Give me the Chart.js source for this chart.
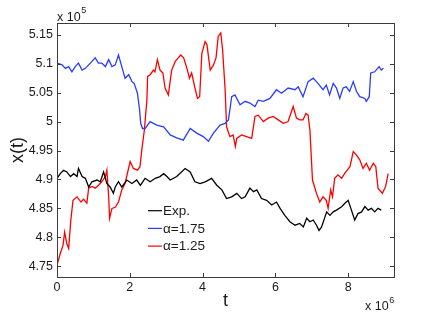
<!DOCTYPE html>
<html><head><meta charset="utf-8">
<script src="https://cdn.jsdelivr.net/npm/chart.js@4/dist/chart.umd.min.js"></script>
<style>html,body{margin:0;padding:0;background:#fff;}canvas{display:block;}</style>
</head><body>
<canvas id="c" width="436" height="312"></canvas>
<script>
// t in units of 1e6, x(t) in units of 1e5
const seriesLabels = ["Exp.", "\u03b1=1.75", "\u03b1=1.25"];
const xTicks = [0, 2, 4, 6, 8];
const yTicks = [4.75, 4.8, 4.85, 4.9, 4.95, 5, 5.05, 5.1, 5.15];

const tExp = [0,0.09,0.18,0.27,0.37,0.46,0.55,0.59,0.69,0.78,0.87,0.96,1.10,1.19,1.28,1.37,1.46,1.55,1.60,1.69,1.78,1.92,2.06,2.19,2.29,2.42,2.56,2.70,2.83,2.93,3.02,3.11,3.29,3.52,3.66,3.79,3.93,4.07,4.25,4.39,4.53,4.66,4.80,4.94,5.07,5.17,5.30,5.40,5.49,5.62,5.76,5.90,6.03,6.13,6.26,6.40,6.54,6.67,6.77,6.86,6.95,7.04,7.13,7.20,7.27,7.41,7.50,7.59,7.68,7.82,7.91,8.00,8.09,8.18,8.27,8.37,8.46,8.55,8.64,8.73,8.82,8.91];
const xExp = [4.902,4.910,4.916,4.913,4.905,4.910,4.905,4.919,4.905,4.902,4.887,4.896,4.899,4.896,4.913,4.893,4.887,4.876,4.887,4.896,4.887,4.899,4.893,4.899,4.890,4.902,4.896,4.902,4.905,4.910,4.905,4.899,4.905,4.919,4.913,4.896,4.893,4.896,4.902,4.890,4.882,4.867,4.870,4.876,4.867,4.870,4.885,4.879,4.882,4.867,4.864,4.856,4.861,4.850,4.838,4.827,4.821,4.824,4.818,4.833,4.827,4.830,4.821,4.812,4.818,4.844,4.838,4.844,4.847,4.853,4.859,4.864,4.847,4.830,4.841,4.844,4.853,4.847,4.850,4.844,4.850,4.847];

const tA175 = [0,0.14,0.23,0.32,0.41,0.50,0.59,0.69,0.78,0.87,0.96,1.05,1.14,1.23,1.33,1.42,1.51,1.60,1.69,1.78,1.87,1.97,2.06,2.12,2.21,2.27,2.30,2.35,2.42,2.56,2.74,2.93,3.11,3.29,3.47,3.66,3.84,4.02,4.16,4.30,4.48,4.62,4.71,4.75,4.80,4.89,5.03,5.17,5.30,5.44,5.53,5.67,5.85,6.03,6.17,6.35,6.54,6.63,6.76,6.90,7.04,7.17,7.31,7.40,7.49,7.59,7.68,7.77,7.86,7.95,8.04,8.14,8.23,8.32,8.46,8.50,8.58,8.62,8.73,8.85,8.91,8.97];
const xA175 = [5.101,5.098,5.092,5.095,5.086,5.095,5.101,5.089,5.092,5.098,5.104,5.110,5.101,5.101,5.095,5.107,5.095,5.098,5.115,5.095,5.075,5.081,5.069,5.066,5.049,5.020,4.997,4.988,4.988,5.000,4.994,4.991,4.977,4.972,4.968,4.988,4.980,4.974,4.966,4.980,4.994,4.997,5.003,5.020,5.043,5.046,5.029,5.035,5.032,5.026,5.037,5.035,5.040,5.055,5.049,5.058,5.055,5.060,5.043,5.069,5.075,5.066,5.055,5.063,5.046,5.066,5.058,5.040,5.058,5.060,5.052,5.069,5.052,5.043,5.040,5.035,5.043,5.084,5.086,5.095,5.089,5.092];

const tA125 = [0,0.09,0.165,0.21,0.27,0.32,0.38,0.44,0.55,0.66,0.73,0.82,0.87,0.96,1.05,1.14,1.23,1.33,1.37,1.42,1.445,1.51,1.60,1.69,1.78,1.87,2.01,2.10,2.21,2.28,2.33,2.40,2.47,2.49,2.56,2.65,2.69,2.76,2.83,2.91,2.97,3.06,3.15,3.25,3.33,3.40,3.48,3.57,3.64,3.70,3.79,3.86,3.92,3.98,4.07,4.12,4.21,4.30,4.37,4.43,4.50,4.55,4.62,4.66,4.75,4.84,4.90,4.94,5.07,5.21,5.35,5.44,5.53,5.67,5.80,5.94,6.08,6.22,6.35,6.49,6.58,6.67,6.76,6.84,6.90,6.95,7.02,7.13,7.22,7.31,7.40,7.45,7.52,7.57,7.63,7.72,7.82,7.91,8.05,8.14,8.23,8.32,8.41,8.50,8.59,8.69,8.76,8.82,8.94,9.03,9.10];
const xA125 = [4.752,4.772,4.786,4.809,4.789,4.781,4.830,4.864,4.870,4.861,4.866,4.859,4.885,4.888,4.885,4.890,4.896,4.905,4.916,4.870,4.833,4.850,4.852,4.861,4.882,4.893,4.931,4.919,4.916,4.922,4.951,4.985,5.037,5.078,5.081,5.089,5.086,5.107,5.089,5.084,5.058,5.046,5.089,5.104,5.110,5.115,5.110,5.092,5.075,5.084,5.058,5.040,5.043,5.118,5.138,5.133,5.089,5.098,5.110,5.147,5.153,5.124,5.055,4.991,4.974,4.977,4.957,4.971,4.977,4.974,4.971,5.009,5.011,5.000,5.006,5.009,5.003,4.997,5.000,5.026,5.006,5.003,5.003,5.014,5.011,4.985,4.899,4.876,4.861,4.870,4.864,4.850,4.882,4.870,4.902,4.908,4.902,4.911,4.922,4.948,4.942,4.934,4.919,4.928,4.916,4.928,4.922,4.885,4.876,4.888,4.910];

const colors = ["#000000", "#2a3cff", "#ff0000"];
function pts(t, x) { return t.map((v, i) => ({ x: v, y: x[i] })); }

const FONT = "'Liberation Sans', Arial, Helvetica, sans-serif";

const decor = {
  id: 'decor',
  afterDraw(chart) {
    const ctx = chart.ctx, a = chart.chartArea;
    const xs = chart.scales.x, ys = chart.scales.y;
    ctx.save();
    ctx.strokeStyle = '#3c3c3c';
    ctx.lineWidth = 1;
    ctx.strokeRect(Math.round(a.left) + 0.5, Math.round(a.top) + 0.5, Math.round(a.right - a.left), Math.round(a.bottom - a.top));
    const L = 4;
    ctx.beginPath();
    xs.ticks.forEach(tk => {
      const px = Math.round(xs.getPixelForValue(tk.value)) + 0.5;
      ctx.moveTo(px, a.bottom); ctx.lineTo(px, a.bottom - L);
      ctx.moveTo(px, a.top); ctx.lineTo(px, a.top + L);
    });
    ys.ticks.forEach(tk => {
      const py = Math.round(ys.getPixelForValue(tk.value)) + 0.5;
      ctx.moveTo(a.left, py); ctx.lineTo(a.left + L, py);
      ctx.moveTo(a.right, py); ctx.lineTo(a.right - L, py);
    });
    ctx.stroke();

    ctx.fillStyle = '#1a1a1a';
    // exponents
    ctx.textBaseline = 'alphabetic'; ctx.textAlign = 'left';
    ctx.font = '12.5px ' + FONT;
    ctx.fillText('x 10', a.left, 20.5);
    let w = ctx.measureText('x 10').width;
    ctx.font = '9px ' + FONT;
    ctx.fillText('5', a.left + w + 0.5, 13);
    ctx.font = '12.5px ' + FONT;
    ctx.fillText('x 10', 365, 310);
    w = ctx.measureText('x 10').width;
    ctx.font = '9px ' + FONT;
    ctx.fillText('6', 365 + w + 0.5, 302.5);

    // axis titles
    ctx.font = '18px ' + FONT;
    ctx.textAlign = 'center'; ctx.textBaseline = 'middle';
    ctx.fillText('t', (a.left + a.right) / 2, 301);
    ctx.save();
    ctx.translate(18, (a.top + a.bottom) / 2);
    ctx.rotate(-Math.PI / 2);
    ctx.fillText('x(t)', 0, 0);
    ctx.restore();

    // legend
    ctx.font = '13.5px ' + FONT;
    ctx.textAlign = 'left'; ctx.textBaseline = 'middle';
    chart.data.datasets.forEach((ds, i) => {
      const y = 210.7 + i * 17.7;
      ctx.strokeStyle = ds.borderColor; ctx.lineWidth = 1.2;
      ctx.beginPath(); ctx.moveTo(148, y); ctx.lineTo(162, y); ctx.stroke();
      ctx.fillStyle = '#1a1a1a';
      ctx.fillText(ds.label, 163, y + 0.5);
    });
    ctx.restore();
  }
};

new Chart(document.getElementById('c'), {
  type: 'line',
  data: {
    datasets: [
      { label: seriesLabels[0], data: pts(tExp, xExp), borderColor: colors[0] },
      { label: seriesLabels[1], data: pts(tA175, xA175), borderColor: colors[1] },
      { label: seriesLabels[2], data: pts(tA125, xA125), borderColor: colors[2] }
    ]
  },
  options: {
    responsive: false, animation: false, devicePixelRatio: 1,
    layout: { padding: { left: 0, top: 23, right: 42, bottom: 0 } },
    elements: { point: { radius: 0 }, line: { borderWidth: 1.3, tension: 0 } },
    plugins: { legend: { display: false }, tooltip: { enabled: false } },
    scales: {
      x: {
        type: 'linear', min: 0, max: 9.26,
        afterBuildTicks: s => { s.ticks = xTicks.map(v => ({ value: v })); },
        afterFit: s => { s.height = 35; },
        grid: { display: false, drawTicks: false, tickLength: 0 }, border: { display: false },
        ticks: { color: '#1a1a1a', font: { family: FONT, size: 12.5 }, padding: 3, maxRotation: 0, autoSkip: false,
                 callback: v => String(v) }
      },
      y: {
        type: 'linear', min: 4.7315, max: 5.1703,
        afterBuildTicks: s => { s.ticks = yTicks.map(v => ({ value: v })); },
        afterFit: s => { s.width = 57; },
        grid: { display: false, drawTicks: false, tickLength: 0 }, border: { display: false },
        ticks: { color: '#1a1a1a', font: { family: FONT, size: 12.5 }, padding: 4, autoSkip: false,
                 callback: v => String(Number(v.toFixed(2))) }
      }
    }
  },
  plugins: [decor]
});
</script>
</body></html>
